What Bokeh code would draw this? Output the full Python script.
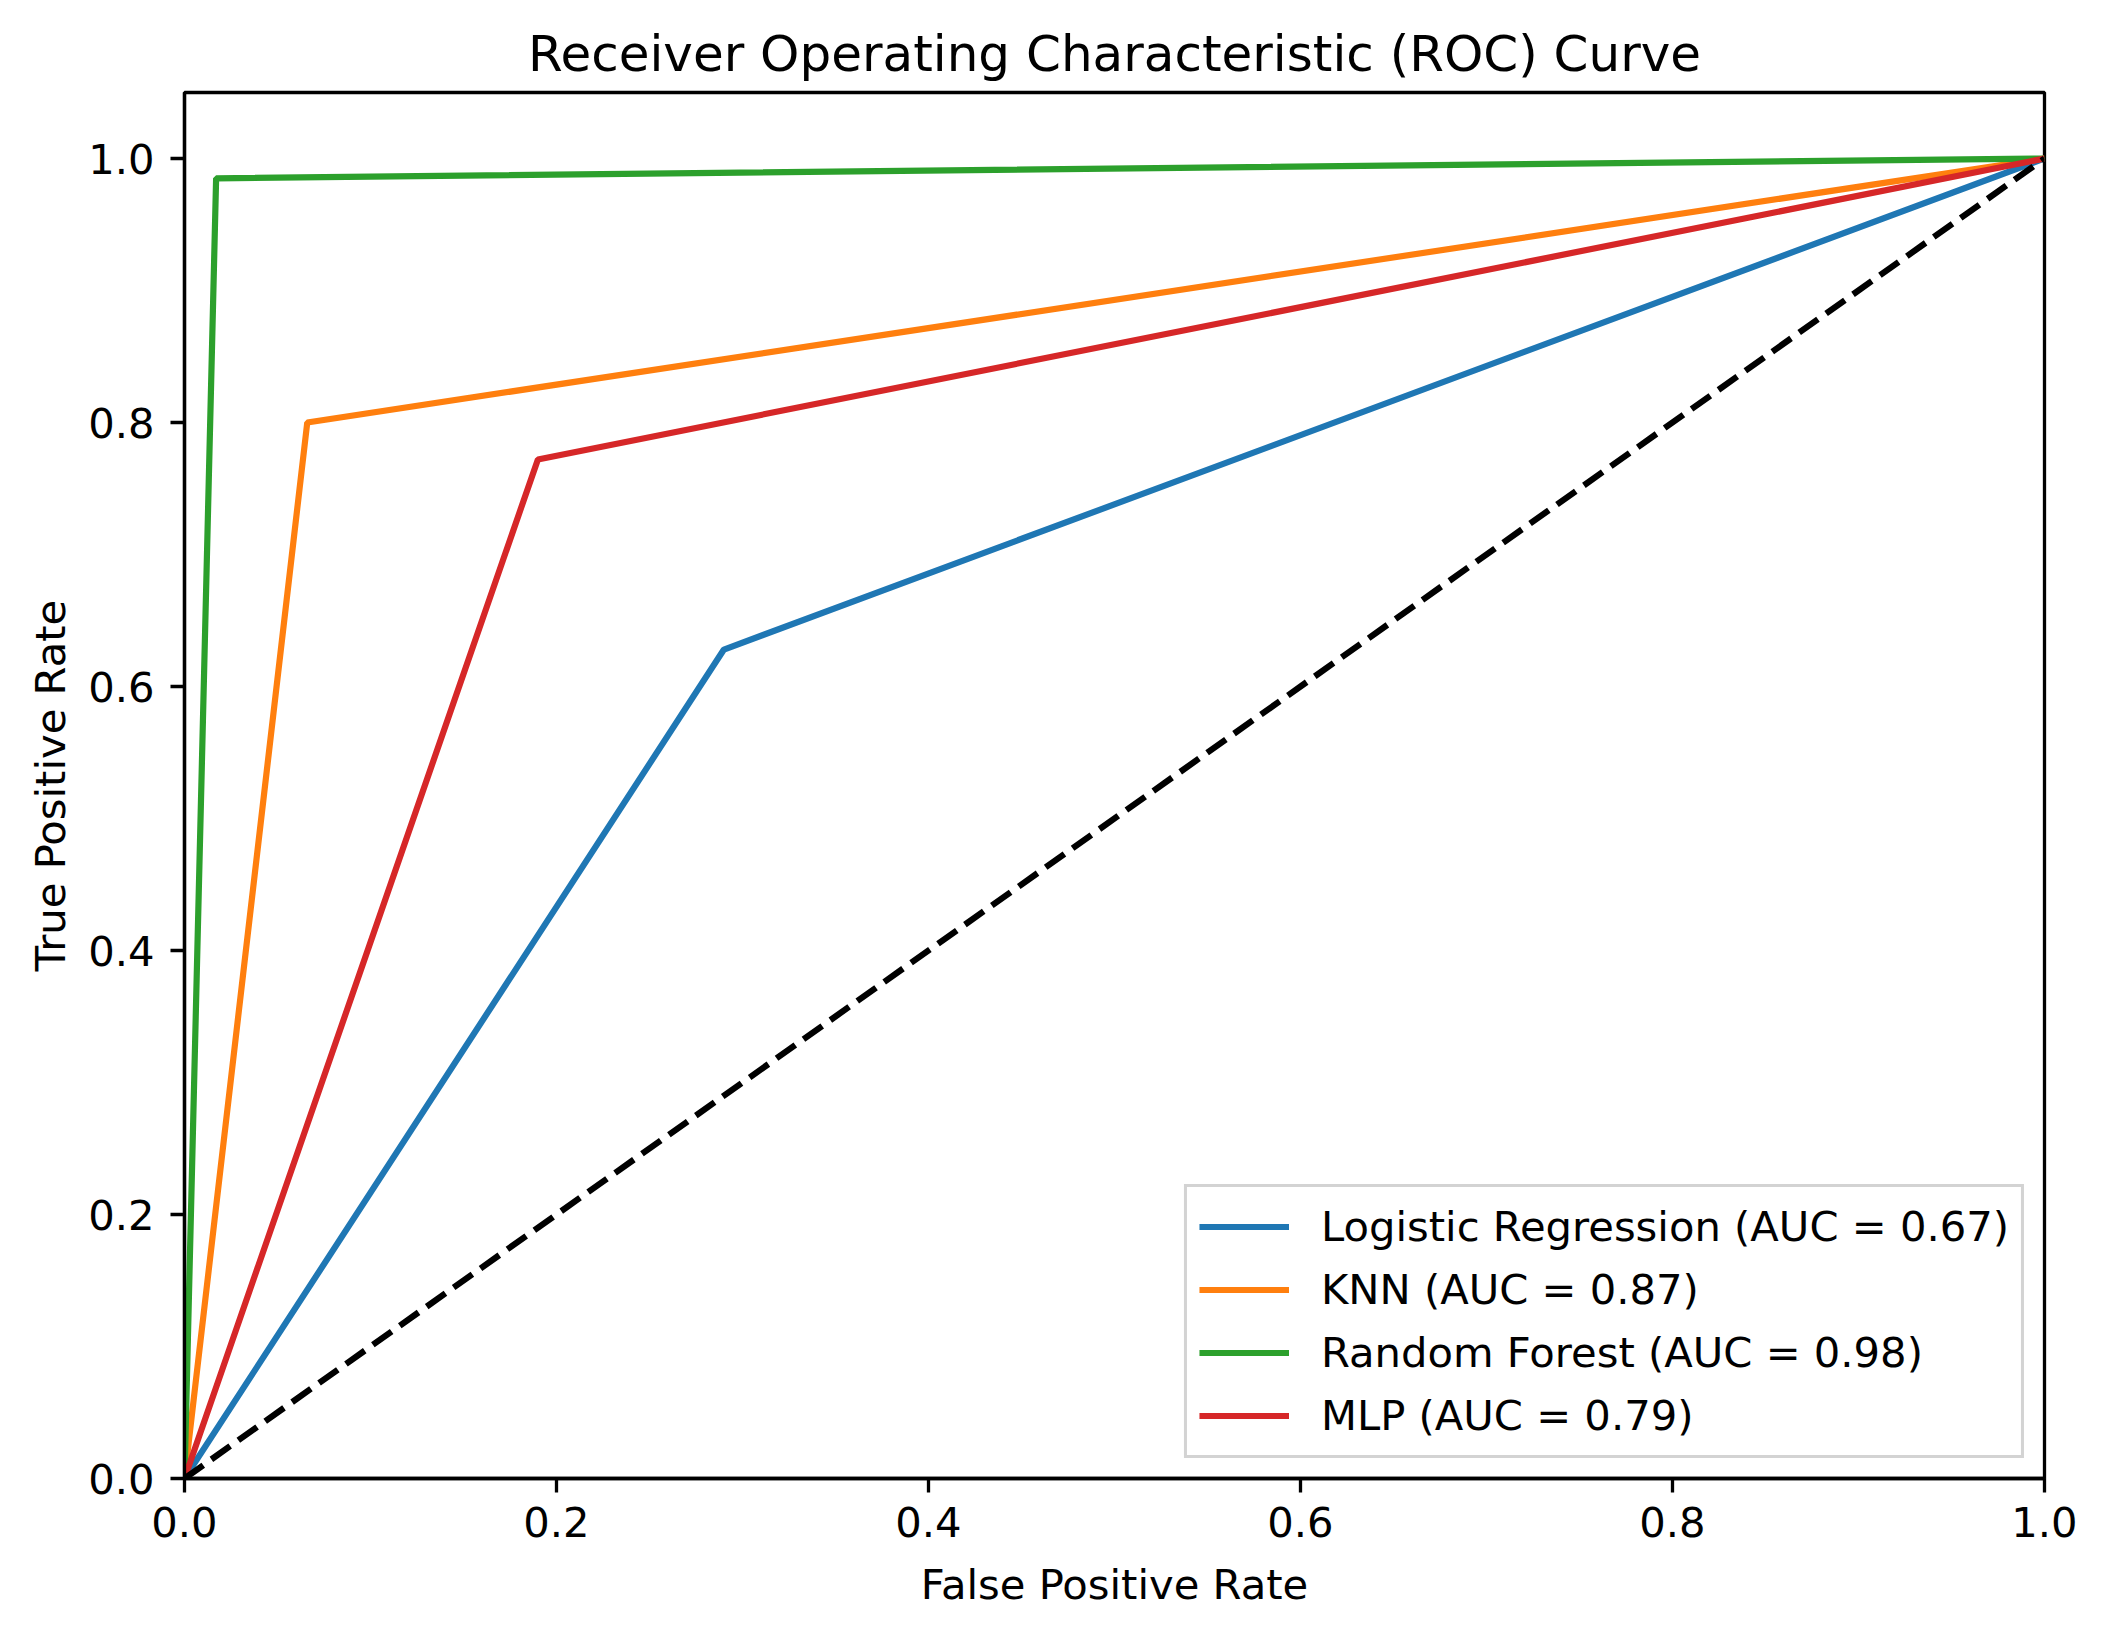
from bokeh.plotting import figure
from bokeh.models import Legend, LegendItem, PrintfTickFormatter, FixedTicker, Range1d
from bokeh.embed import file_html
from bokeh.resources import INLINE

# ---- data ----
models = ["Logistic Regression", "KNN", "Random Forest", "MLP"]
auc_values = [0.67, 0.87, 0.98, 0.79]
fpr_lr = [0.0, 0.290, 1.0]
tpr_lr = [0.0, 0.628, 1.0]
fpr_knn = [0.0, 0.066, 1.0]
tpr_knn = [0.0, 0.800, 1.0]
fpr_rf = [0.0, 0.017, 1.0]
tpr_rf = [0.0, 0.985, 1.0]
fpr_mlp = [0.0, 0.190, 1.0]
tpr_mlp = [0.0, 0.772, 1.0]
chance_x = [0.0, 1.0]
chance_y = [0.0, 1.0]
ticks = [0.0, 0.2, 0.4, 0.6, 0.8, 1.0]
colors = ["#1f77b4", "#ff7f0e", "#2ca02c", "#d62728"]

FONT = "DejaVu Sans"
TICK_FS = "41.7px"

p = figure(
    frame_width=1860, frame_height=1386,
    min_border_left=184, min_border_right=46, min_border_top=92, min_border_bottom=142,
    x_range=Range1d(0, 1.0), y_range=Range1d(0, 1.05),
    output_backend="svg", toolbar_location=None,
    title="Receiver Operating Characteristic (ROC) Curve",
)
p.title.text_font = FONT
p.title.text_font_size = "50px"
p.title.text_font_style = "normal"
p.title.align = "center"
p.title.standoff = 19
p.title.text_color = "black"

p.grid.visible = False
p.outline_line_color = "black"
p.outline_line_width = 3.3
p.background_fill_color = "white"
p.border_fill_color = "white"

for ax in (p.xaxis[0], p.yaxis[0]):
    ax.ticker = FixedTicker(ticks=ticks)
    ax.formatter = PrintfTickFormatter(format="%.1f")
    ax.major_label_text_font = FONT
    ax.major_label_text_font_size = TICK_FS
    ax.major_label_text_color = "black"
    ax.axis_label_text_font = FONT
    ax.axis_label_text_font_size = TICK_FS
    ax.axis_label_text_font_style = "normal"
    ax.axis_label_text_color = "black"
    ax.axis_line_color = "black"
    ax.axis_line_width = 3.3
    ax.major_tick_line_color = "black"
    ax.major_tick_line_width = 3.3
    ax.major_tick_out = 14
    ax.major_tick_in = 0
    ax.minor_tick_line_color = None

p.xaxis.axis_label = "False Positive Rate"
p.yaxis.axis_label = "True Positive Rate"
p.xaxis.major_label_standoff = 14
p.xaxis.axis_label_standoff = 20
p.yaxis.major_label_standoff = 16
p.yaxis.axis_label_standoff = 10

series = [(fpr_lr, tpr_lr), (fpr_knn, tpr_knn), (fpr_rf, tpr_rf), (fpr_mlp, tpr_mlp)]
items = []
for (fx, ty), name, auc, c in zip(series, models, auc_values, colors):
    r = p.line(fx, ty, line_color=c, line_width=6.2)
    items.append(LegendItem(label=f"{name} (AUC = {auc:.2f})", renderers=[r]))

p.line(chance_x, chance_y, line_color="black", line_width=6.2, line_dash="23 10")

legend = Legend(
    items=items, location="bottom_right",
    label_text_font=FONT, label_text_font_size=TICK_FS, label_text_color="black",
    glyph_width=90, glyph_height=55, label_height=55, label_standoff=32,
    spacing=8, padding=12, margin=20,
    border_line_color="#d3d3d3", border_line_width=3.3, border_line_alpha=1.0,
    background_fill_color="white", background_fill_alpha=0.8,
)
p.add_layout(legend)

open("out.html", "w").write(file_html(p, INLINE))
